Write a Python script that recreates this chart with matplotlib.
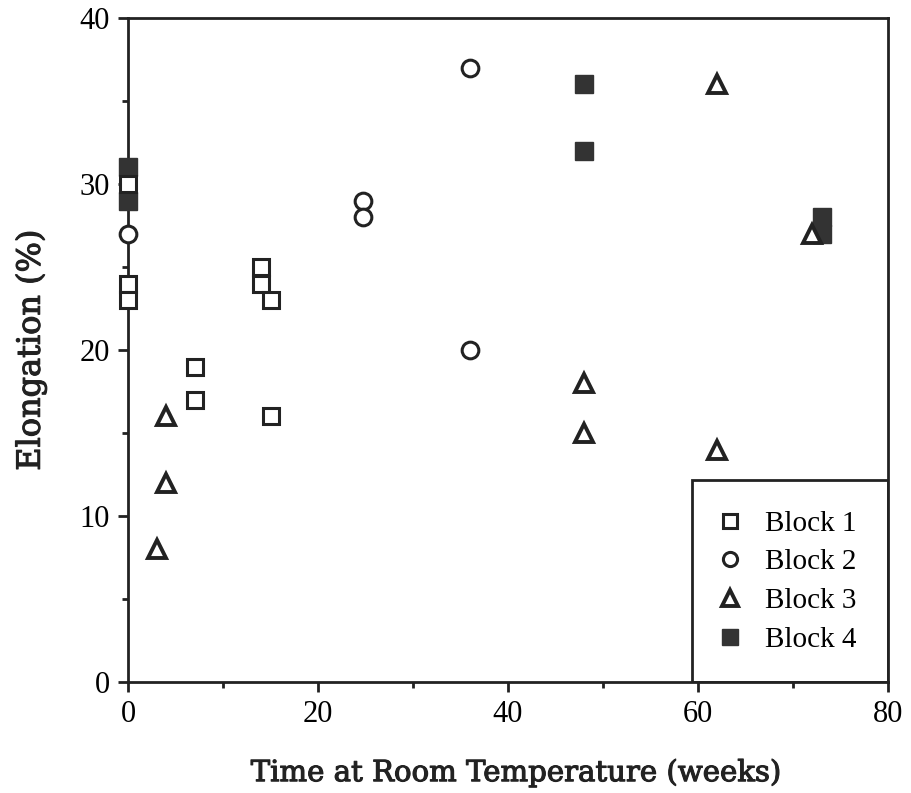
import matplotlib.pyplot as plt
import matplotlib.patheffects as pe
from matplotlib.patches import Rectangle

plt.rcParams['font.family'] = ['Liberation Serif', 'DejaVu Serif']

# data (weeks, elongation %)
b1_x = [0, 0, 0, 7, 7, 14, 14, 15, 15]
b1_y = [30, 24, 23, 19, 17, 25, 24, 23, 16]
b2_x = [0, 24.7, 24.7, 36, 36]
b2_y = [27, 29, 28, 37, 20]
b3_x = [3, 4, 4, 48, 48, 62, 62, 72]
b3_y = [8, 12, 16, 18, 15, 36, 14, 27]
b4_x = [0, 0, 48, 48, 73, 73]
b4_y = [31, 29, 36, 32, 28, 27]

ink = '#222222'

fig = plt.figure(figsize=(9.12, 7.93), dpi=100)
ax = fig.add_axes([0.1404, 0.14, 0.8333, 0.8373])

ms = 12
ax.plot(b1_x, b1_y, 's', ms=ms, mfc='white', mec=ink, mew=2.2,
        label='Block 1', clip_on=False, zorder=4)
ax.plot(b2_x, b2_y, 'o', ms=ms, mfc='white', mec=ink, mew=2.2,
        label='Block 2', clip_on=False, zorder=4)
ax.plot(b3_x, b3_y, '^', ms=ms + 1, mfc='white', mec=ink, mew=2.8,
        label='Block 3', clip_on=False, zorder=5)
ax.plot(b4_x, b4_y, 's', ms=ms + 1, mfc='#333333', mec='#333333', mew=1,
        label='Block 4', clip_on=False, zorder=3)

ax.set_xlim(0, 80)
ax.set_ylim(0, 40)
ax.set_xticks([0, 20, 40, 60, 80])
ax.set_xticks([10, 30, 50, 70], minor=True)
ax.set_yticks([0, 10, 20, 30, 40])
ax.set_yticks([5, 15, 25, 35], minor=True)
ax.tick_params(which='major', direction='out', length=7, width=2,
               color=ink, labelsize=22, pad=6)
ax.tick_params(which='minor', direction='out', length=4, width=2, color=ink)
for s in ax.spines.values():
    s.set_linewidth(2)
    s.set_color(ink)

# axis titles use a wider, heavier serif than the tick labels
heavy = [pe.withStroke(linewidth=0.8, foreground=ink)]
xl = ax.set_xlabel('Time at Room Temperature (weeks)', fontsize=21,
                   family='DejaVu Serif', color=ink)
yl = ax.set_ylabel('Elongation (%)', fontsize=23, family='DejaVu Serif',
                   color=ink)
xl.set_path_effects(heavy)
yl.set_path_effects(heavy)
ax.xaxis.set_label_coords(0.51, -0.115)
ax.yaxis.set_label_coords(-0.107, 0.50)

# legend box sits in the lower right corner, sharing the axis lines
ax.add_patch(Rectangle((0.742, 0), 0.258, 0.304, transform=ax.transAxes,
                       fill=False, ec=ink, lw=2, zorder=2))
ax.legend(loc='upper left', bbox_to_anchor=(0.735, 0.298), frameon=False,
          fontsize=21, handletextpad=0.6, labelspacing=0.42,
          handlelength=1.2, markerscale=0.85)

fig.savefig('out.png', dpi=100)
